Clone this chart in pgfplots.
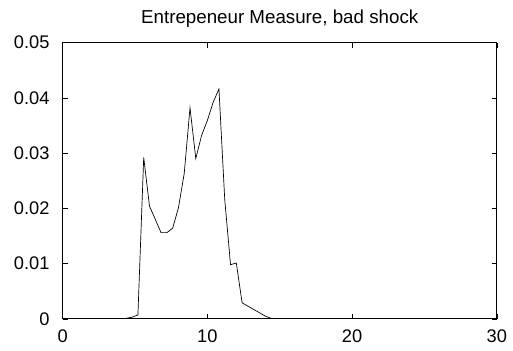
\documentclass[border=0pt]{standalone}
\usepackage{pgfplots}
\pgfplotsset{compat=1.18}
\usetikzlibrary{calc}
\usepackage{fontspec}
\setmainfont{Liberation Sans}
\begin{document}
\fontsize{18.5}{22}\selectfont
\begin{tikzpicture}
\begin{axis}[
  name=ax,
  scale only axis,
  width=438.4bp, height=279bp,
  xmin=0, xmax=30, ymin=0, ymax=0.05,
  xtick={0,10,20,30}, ytick={0,0.01,0.02,0.03,0.04,0.05},
  yticklabels={0,0.01,0.02,0.03,0.04,0.05},
  xticklabels={0,10,20,30},
  scaled y ticks=false,
  tick align=inside,
  major tick length=5bp,
  tick style={black, line width=0.5pt},
  axis line style={line width=0.8pt},
  title={Entrepeneur Measure, bad shock},
  title style={yshift=3bp},
  tick label style={font=\fontsize{18.5}{22}\selectfont},
  yticklabel style={xshift=-7bp},
  xticklabel style={yshift=-5bp},
  every axis title/.append style={font=\fontsize{19}{22}\selectfont},
]
\addplot[black, line width=0.7pt] coordinates {
(0,0) (4.0,0) (4.4,0.0001) (4.8,0.0003) (5.2,0.0007) (5.6,0.0292)
(6.0,0.0204) (6.4,0.0180) (6.8,0.0156) (7.2,0.0156) (7.6,0.0164)
(8.0,0.0201) (8.4,0.0263) (8.8,0.0382) (9.2,0.0290) (9.6,0.0332)
(10.0,0.0359) (10.4,0.0392) (10.8,0.0416) (11.2,0.0216) (11.6,0.0098)
(12.0,0.0101) (12.4,0.0029) (12.8,0.0023) (13.2,0.0017) (13.6,0.0011)
(14.0,0.0005) (14.4,0.0001) (14.8,0) (30,0)
};
\end{axis}
\path ($(ax.south west)+(-63.3bp,-32bp)$) rectangle ($(ax.north east)+(11.3bp,43bp)$);
\end{tikzpicture}
\end{document}
